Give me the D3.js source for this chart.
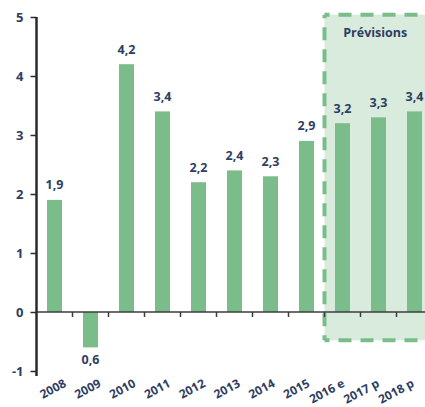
<!DOCTYPE html>
<html>
<head>
<meta charset="utf-8">
<script src="https://cdn.jsdelivr.net/npm/d3@7"></script>
<style>
  html, body { margin: 0; padding: 0; background: #fff; }
  svg { display: block; }
  text { font-family: "Open Sans", "DejaVu Sans", sans-serif; font-weight: 700; fill: #2e3d63; }
</style>
</head>
<body>
<svg id="chart" width="425" height="407"></svg>
<script>
// Annual growth, % — actuals then forecasts (e = estimate, p = projection)
const years = ["2008", "2009", "2010", "2011", "2012", "2013", "2014", "2015", "2016 e", "2017 p", "2018 p"];
const growth = [1.9, -0.6, 4.2, 3.4, 2.2, 2.4, 2.3, 2.9, 3.2, 3.3, 3.4];
const yTicks = [-1, 0, 1, 2, 3, 4, 5];
const forecastYears = ["2016 e", "2017 p", "2018 p"];
const forecastTitle = "Prévisions";

const W = 425, H = 407;
const BAR = "#7bbd8a", BOX_FILL = "#d9ebdc", INK = "#2e3d63", AXIS = "#2a2a2a";

const svg = d3.select("#chart");

const x = d3.scaleBand().domain(years).range([36.5, 432.5])
  .paddingInner(21 / 36).paddingOuter(21 / 72);
const y = d3.scaleLinear().domain([-1, 5]).range([371, 17]);
const gap = x.step() * x.paddingInner();
const fmt = v => d3.format(".1f")(Math.abs(v)).replace(".", ",");

// forecast panel background
const boxLeft = x(forecastYears[0]) - gap / 2;
const boxTop = y(5.04), boxBottom = y(-0.48);
svg.append("rect")
  .attr("x", boxLeft).attr("y", boxTop)
  .attr("width", W + 20 - boxLeft).attr("height", boxBottom - boxTop)
  .attr("fill", BOX_FILL);

// bars
svg.append("g").selectAll("rect").data(years).join("rect")
  .attr("x", d => x(d))
  .attr("width", x.bandwidth())
  .attr("y", (d, i) => y(Math.max(0, growth[i])))
  .attr("height", (d, i) => Math.abs(y(growth[i]) - y(0)))
  .attr("fill", BAR);

// dashed outline of the forecast panel
const dash = "13,9";
svg.append("line").attr("x1", boxLeft).attr("x2", W + 20).attr("y1", boxTop).attr("y2", boxTop);
svg.append("line").attr("x1", boxLeft).attr("x2", W + 20).attr("y1", boxBottom).attr("y2", boxBottom);
svg.append("line").attr("x1", boxLeft).attr("x2", boxLeft).attr("y1", boxBottom).attr("y2", boxTop);
svg.selectAll("line")
  .attr("stroke", BAR).attr("stroke-width", 4)
  .attr("stroke-dasharray", dash).attr("stroke-dashoffset", 8);

// zero baseline with ticks between categories
svg.append("line")
  .attr("x1", x.range()[0]).attr("x2", W)
  .attr("y1", y(0)).attr("y2", y(0))
  .attr("stroke", "#3c3c3c").attr("stroke-width", 1.5);
svg.append("g").selectAll("line").data(years.slice(1)).join("line")
  .attr("x1", d => x(d) - gap / 2).attr("x2", d => x(d) - gap / 2)
  .attr("y1", y(0)).attr("y2", y(0) + 5)
  .attr("stroke", "#3c3c3c").attr("stroke-width", 1.5);

// y axis
const yAxis = d3.axisLeft(y).tickValues(yTicks).tickSize(6).tickPadding(7).tickFormat(d => String(d));
const gy = svg.append("g").attr("transform", `translate(${x.range()[0]},0)`).call(yAxis);
gy.select(".domain").remove();
gy.selectAll(".tick line").attr("stroke", AXIS).attr("stroke-width", 1.5);
gy.selectAll(".tick text").attr("fill", INK).style("font-size", "13px")
  .style("font-family", "'Open Sans', sans-serif").style("font-weight", 700);
svg.append("line")
  .attr("x1", x.range()[0]).attr("x2", x.range()[0])
  .attr("y1", y(5)).attr("y2", y(-1) + 5)
  .attr("stroke", AXIS).attr("stroke-width", 2.5);

// value labels
svg.append("g").selectAll("text").data(years).join("text")
  .attr("x", d => x(d) + x.bandwidth() / 2)
  .attr("y", (d, i) => growth[i] >= 0 ? y(growth[i]) - 10.5 : y(growth[i]) + 17)
  .attr("text-anchor", "middle")
  .style("font-size", "12.5px")
  .text((d, i) => fmt(growth[i]));

// category labels, slanted along the bottom
const xl = d3.scalePoint().domain(years).range([67, 415]);
svg.append("g").selectAll("text").data(years).join("text")
  .attr("transform", d => `translate(${xl(d)},386) rotate(-28)`)
  .attr("text-anchor", "end")
  .style("font-size", "12px")
  .text(d => d);

// forecast panel title
svg.append("text")
  .attr("x", (boxLeft + x(forecastYears[2]) + x.bandwidth()) / 2 + 2)
  .attr("y", 36.5)
  .attr("text-anchor", "middle")
  .style("font-size", "12.5px")
  .text(forecastTitle);
</script>
</body>
</html>
